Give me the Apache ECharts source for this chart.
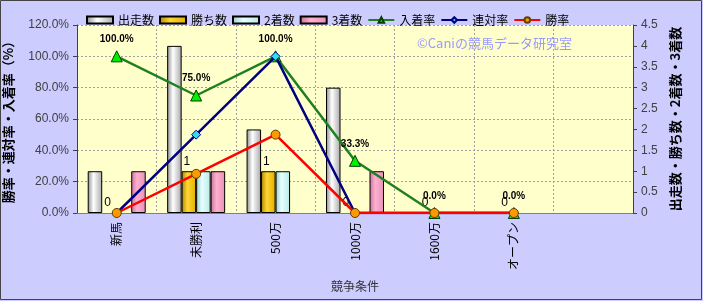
<!DOCTYPE html>
<html><head><meta charset="utf-8">
<script src="https://cdn.jsdelivr.net/npm/echarts@6/dist/echarts.min.js"></script>
<style>html,body{margin:0;padding:0;background:#CCCCFF;}#c{width:703px;height:301px;}</style>
</head><body><div id="c"></div>
<script>
const categories = ['新馬','未勝利','500万','1000万','1600万','オープン',''];
const runners  = [1, 4, 2, 3, 0, 0, null];
const wins     = [0, 1, 1, 0, 0, 0, null];
const seconds  = [0, 1, 1, 0, 0, 0, null];
const thirds   = [1, 1, 0, 1, 0, 0, null];
const placeRate = [1.0, 0.75, 1.0, 0.333, 0, 0, null];
const rentaiRate = [0, 0.5, 1.0, 0, 0, 0, null];
const winRate = [0, 0.25, 0.5, 0, 0, 0, null];

const FONT = "'Liberation Sans', Arial, 'Noto Sans CJK JP', sans-serif";
const JP = "'Noto Sans CJK JP', sans-serif";
function grad(dark, light, mid){
  return {type:'linear',x:0,y:0,x2:1,y2:0,colorStops:[
    {offset:0,color:dark},{offset:0.4,color:light},{offset:1,color:mid}]};
}
function hideZero(arr){
  return arr.map(v => v === 0 ? {value:0, itemStyle:{borderWidth:0}} : v);
}
function bar(name, data, g, extra){
  return Object.assign({
    name, type:'bar', yAxisIndex:1, data:hideZero(data), barWidth:14.5, barGap:'0%',
    itemStyle:{color:g, borderColor:'#000', borderWidth:1}
  }, extra||{});
}
const chart = echarts.init(document.getElementById('c'));
chart.setOption({
  backgroundColor:'#CCCCFF',
  animation:false,
  textStyle:{fontFamily:FONT},
  legend:{
    top:9, left:81, itemWidth:26, itemHeight:7, itemGap:5,
    textStyle:{fontSize:12, color:'#000', fontFamily:JP},
    data:[
      {name:'出走数', icon:'rect'},{name:'勝ち数', icon:'rect'},{name:'2着数', icon:'rect'},{name:'3着数', icon:'rect'},
      '入着率','連対率','勝率']
  },
  grid:{left:77, right:70, top:25, bottom:88, show:true, backgroundColor:'#FFFFCC', borderWidth:0, outerBoundsMode:'none', containLabel:false},
  graphic:[
    {type:'text', left:417, top:37, z:1, style:{text:'©Caniの競馬データ研究室', fill:'#9999FF', font:"13px 'Noto Sans CJK JP', sans-serif"}},
    {type:'rect', shape:{x:0.5,y:0.5,width:701,height:299}, style:{fill:null, stroke:'#444', lineWidth:1}, silent:true}
  ],
  xAxis:{
    type:'category', data:categories, boundaryGap:true,
    name:'競争条件', nameLocation:'middle', nameGap:67,
    nameTextStyle:{fontSize:12, color:'#333', fontFamily:JP},
    axisLine:{lineStyle:{color:'#808080'}},
    axisTick:{show:false},
    axisLabel:{rotate:90, margin:9, fontSize:12, color:'#000', fontFamily:JP, interval:0},
    splitLine:{show:true, interval:0, lineStyle:{color:'#A0A0A0', type:[2,2]}}
  },
  yAxis:[
    {type:'value', min:0, max:1.2, interval:0.2, position:'left',
     name:'勝率・連対率・入着率（%）', nameLocation:'middle', nameGap:62, nameRotate:90,
     nameTextStyle:{fontSize:13, fontWeight:'bold', color:'#000', fontFamily:JP},
     axisLine:{show:true, lineStyle:{color:'#404040'}},
     axisTick:{show:true, length:4, lineStyle:{color:'#404040'}},
     axisLabel:{formatter:v=>(v*100).toFixed(1)+'%', fontSize:12, color:'#404040', margin:8},
     splitLine:{show:true, lineStyle:{color:'#A0A0A0', type:[2,2]}}},
    {type:'value', min:0, max:4.5, interval:0.5, position:'right',
     name:'出走数・勝ち数・2着数・3着数', nameLocation:'middle', nameGap:31, nameRotate:90,
     nameTextStyle:{fontSize:13, fontWeight:'bold', color:'#000', fontFamily:JP},
     axisLine:{show:true, lineStyle:{color:'#404040'}},
     axisTick:{show:true, length:4, lineStyle:{color:'#404040'}},
     axisLabel:{fontSize:12, color:'#404040', margin:8},
     splitLine:{show:false}}
  ],
  series:[
    bar('出走数', runners, grad('#8A8A8A','#FFFFFF','#A8A8A8')),
    bar('勝ち数', wins, grad('#B08800','#FFD633','#E0B000'),
      {label:{show:true, position:'top', distance:4, offset:[-2,0], fontSize:12, color:'#000', formatter:p=>p.value}}),
    bar('2着数', seconds, grad('#9ACCCC','#E6FFFF','#B8E8E8')),
    bar('3着数', thirds, grad('#C8709A','#FFB0D0','#E890B8')),
    {name:'入着率', type:'line', yAxisIndex:0, data:placeRate, z:3,
     lineStyle:{color:'#208020', width:2.5}, symbol:'triangle', symbolSize:11,
     itemStyle:{color:'#00EE00', borderColor:'#004000', borderWidth:1},
     label:{show:true, position:'top', distance:6, fontSize:10, fontWeight:'bold', color:'#000',
       formatter:p=>(p.value*100).toFixed(1)+'%'}},
    {name:'連対率', type:'line', yAxisIndex:0, data:rentaiRate, z:4,
     lineStyle:{color:'#000080', width:2.5}, symbol:'diamond', symbolSize:9,
     itemStyle:{color:'#33DDEE', borderColor:'#000080', borderWidth:1}},
    {name:'勝率', type:'line', yAxisIndex:0, data:winRate, z:5,
     lineStyle:{color:'#FF0000', width:2.5}, symbol:'circle', symbolSize:9,
     itemStyle:{color:'#FF9900', borderColor:'#604000', borderWidth:1}}
  ]
});
</script></body></html>
